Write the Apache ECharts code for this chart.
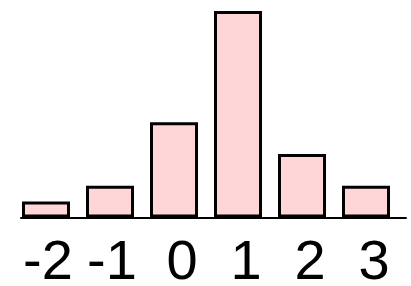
<!DOCTYPE html>
<html>
<head>
<meta charset="utf-8">
<script src="https://cdn.jsdelivr.net/npm/echarts@6/dist/echarts.min.js"></script>
<style>
    html, body { margin: 0; padding: 0; background: #fff; }
    #chart { width: 411px; height: 286px; }
</style>
</head>
<body>
<div id="chart"></div>
<script>
// 数据
const categories = ['-2', '-1', '0', '1', '2', '3'];
const counts = [1, 2, 6, 13, 4, 2];

const chart = echarts.init(document.getElementById('chart'));

const option = {
    animation: false,
    grid: [
        // 柱子所在的网格
        { left: 14, right: 13, top: 11, bottom: 68.5, outerBoundsMode: 'none' },
        // 只用来画底部那条轴线
        { left: 21, right: 5, top: 11, bottom: 68.5, outerBoundsMode: 'none' }
    ],
    xAxis: [
        {
            type: 'category',
            gridIndex: 0,
            data: categories,
            axisLine: { show: false },
            axisTick: { show: false },
            axisLabel: {
                interval: 0,
                margin: 18,
                fontFamily: 'Liberation Sans',
                fontSize: 56,
                color: '#000',
                formatter: function (v) {
                    return v.charAt(0) === '-' ? '{neg|' + v + '}' : '{pos|' + v + '}';
                },
                rich: {
                    neg: { fontFamily: 'Liberation Sans', fontSize: 56, color: '#000', padding: [0, 0, 0, 4] },
                    pos: { fontFamily: 'Liberation Sans', fontSize: 56, color: '#000', padding: [0, 0, 0, 16] }
                }
            }
        },
        {
            type: 'value',
            gridIndex: 1,
            min: 0,
            max: 1,
            axisLine: { show: true, lineStyle: { color: '#000', width: 2 } },
            axisTick: { show: false },
            axisLabel: { show: false },
            splitLine: { show: false }
        }
    ],
    yAxis: [
        {
            type: 'value',
            gridIndex: 0,
            min: 0,
            max: 13,
            show: false
        },
        {
            type: 'value',
            gridIndex: 1,
            show: false
        }
    ],
    series: [{
        type: 'bar',
        xAxisIndex: 0,
        yAxisIndex: 0,
        data: counts,
        barWidth: 48,
        itemStyle: {
            color: '#ffd6d7',
            borderColor: '#000',
            borderWidth: 3
        }
    }]
};

chart.setOption(option);
</script>
</body>
</html>
